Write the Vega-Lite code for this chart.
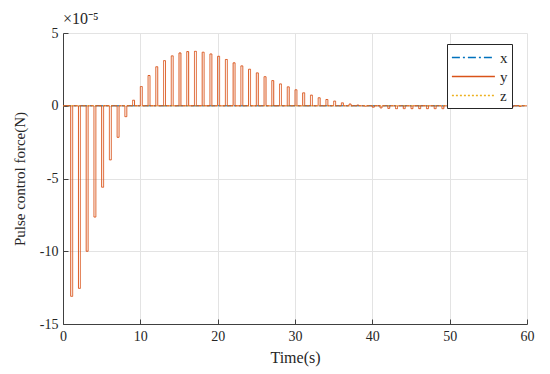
{
  "$schema": "https://vega.github.io/schema/vega-lite/v6.json",
  "width": 464,
  "height": 291,
  "autosize": "none",
  "padding": {"left": 63, "top": 33, "right": 23, "bottom": 50},
  "background": "white",
  "config": {
    "font": "Liberation Serif",
    "view": {"stroke": null},
    "axis": {
      "gridColor": "#e3e3e3",
      "gridWidth": 1,
      "domainColor": "#404040",
      "tickColor": "#404040",
      "tickSize": -5,
      "labelColor": "#262626",
      "titleColor": "#262626",
      "labelFontSize": 14,
      "titleFontSize": 15,
      "titleFontWeight": "normal",
      "labelFont": "Liberation Serif",
      "titleFont": "Liberation Serif",
      "labelExpr": "'' + datum.value"
    }
  },
  "title": {
    "text": "×10⁻⁵",
    "anchor": "start",
    "frame": "group",
    "fontSize": 16,
    "fontWeight": "normal",
    "font": "Liberation Serif",
    "color": "#262626",
    "offset": -1
  },
  "data": {
    "values": [
      {"s": "x", "t": 0, "v": 0},
      {"s": "x", "t": 60, "v": 0},
      {"s": "z", "t": 0, "v": 0},
      {"s": "z", "t": 60, "v": 0},
      {"s": "y", "t": 0, "v": 0},
      {"s": "y", "t": 1, "v": -13.1}, {"s": "y", "t": 1.25, "v": 0},
      {"s": "y", "t": 2, "v": -12.55}, {"s": "y", "t": 2.25, "v": 0},
      {"s": "y", "t": 3, "v": -10.0}, {"s": "y", "t": 3.25, "v": 0},
      {"s": "y", "t": 4, "v": -7.65}, {"s": "y", "t": 4.25, "v": 0},
      {"s": "y", "t": 5, "v": -5.6}, {"s": "y", "t": 5.25, "v": 0},
      {"s": "y", "t": 6, "v": -3.72}, {"s": "y", "t": 6.25, "v": 0},
      {"s": "y", "t": 7, "v": -2.17}, {"s": "y", "t": 7.25, "v": 0},
      {"s": "y", "t": 8, "v": -0.75}, {"s": "y", "t": 8.25, "v": 0},
      {"s": "y", "t": 9, "v": 0.38}, {"s": "y", "t": 9.25, "v": 0},
      {"s": "y", "t": 10, "v": 1.32}, {"s": "y", "t": 10.25, "v": 0},
      {"s": "y", "t": 11, "v": 2.08}, {"s": "y", "t": 11.25, "v": 0},
      {"s": "y", "t": 12, "v": 2.68}, {"s": "y", "t": 12.25, "v": 0},
      {"s": "y", "t": 13, "v": 3.1}, {"s": "y", "t": 13.25, "v": 0},
      {"s": "y", "t": 14, "v": 3.43}, {"s": "y", "t": 14.25, "v": 0},
      {"s": "y", "t": 15, "v": 3.63}, {"s": "y", "t": 15.25, "v": 0},
      {"s": "y", "t": 16, "v": 3.72}, {"s": "y", "t": 16.25, "v": 0},
      {"s": "y", "t": 17, "v": 3.74}, {"s": "y", "t": 17.25, "v": 0},
      {"s": "y", "t": 18, "v": 3.68}, {"s": "y", "t": 18.25, "v": 0},
      {"s": "y", "t": 19, "v": 3.56}, {"s": "y", "t": 19.25, "v": 0},
      {"s": "y", "t": 20, "v": 3.4}, {"s": "y", "t": 20.25, "v": 0},
      {"s": "y", "t": 21, "v": 3.18}, {"s": "y", "t": 21.25, "v": 0},
      {"s": "y", "t": 22, "v": 2.95}, {"s": "y", "t": 22.25, "v": 0},
      {"s": "y", "t": 23, "v": 2.74}, {"s": "y", "t": 23.25, "v": 0},
      {"s": "y", "t": 24, "v": 2.51}, {"s": "y", "t": 24.25, "v": 0},
      {"s": "y", "t": 25, "v": 2.26}, {"s": "y", "t": 25.25, "v": 0},
      {"s": "y", "t": 26, "v": 2.0}, {"s": "y", "t": 26.25, "v": 0},
      {"s": "y", "t": 27, "v": 1.73}, {"s": "y", "t": 27.25, "v": 0},
      {"s": "y", "t": 28, "v": 1.5}, {"s": "y", "t": 28.25, "v": 0},
      {"s": "y", "t": 29, "v": 1.3}, {"s": "y", "t": 29.25, "v": 0},
      {"s": "y", "t": 30, "v": 1.1}, {"s": "y", "t": 30.25, "v": 0},
      {"s": "y", "t": 31, "v": 0.89}, {"s": "y", "t": 31.25, "v": 0},
      {"s": "y", "t": 32, "v": 0.73}, {"s": "y", "t": 32.25, "v": 0},
      {"s": "y", "t": 33, "v": 0.55}, {"s": "y", "t": 33.25, "v": 0},
      {"s": "y", "t": 34, "v": 0.43}, {"s": "y", "t": 34.25, "v": 0},
      {"s": "y", "t": 35, "v": 0.32}, {"s": "y", "t": 35.25, "v": 0},
      {"s": "y", "t": 36, "v": 0.2}, {"s": "y", "t": 36.25, "v": 0},
      {"s": "y", "t": 37, "v": 0.12}, {"s": "y", "t": 37.25, "v": 0},
      {"s": "y", "t": 38, "v": 0.05}, {"s": "y", "t": 38.25, "v": 0},
      {"s": "y", "t": 39, "v": -0.03}, {"s": "y", "t": 39.25, "v": 0},
      {"s": "y", "t": 40, "v": -0.1}, {"s": "y", "t": 40.25, "v": 0},
      {"s": "y", "t": 41, "v": -0.15}, {"s": "y", "t": 41.25, "v": 0},
      {"s": "y", "t": 42, "v": -0.18}, {"s": "y", "t": 42.25, "v": 0},
      {"s": "y", "t": 43, "v": -0.2}, {"s": "y", "t": 43.25, "v": 0},
      {"s": "y", "t": 44, "v": -0.2}, {"s": "y", "t": 44.25, "v": 0},
      {"s": "y", "t": 45, "v": -0.2}, {"s": "y", "t": 45.25, "v": 0},
      {"s": "y", "t": 46, "v": -0.2}, {"s": "y", "t": 46.25, "v": 0},
      {"s": "y", "t": 47, "v": -0.2}, {"s": "y", "t": 47.25, "v": 0},
      {"s": "y", "t": 48, "v": -0.2}, {"s": "y", "t": 48.25, "v": 0},
      {"s": "y", "t": 49, "v": -0.2}, {"s": "y", "t": 49.25, "v": 0},
      {"s": "y", "t": 50, "v": -0.19}, {"s": "y", "t": 50.25, "v": 0},
      {"s": "y", "t": 51, "v": -0.19}, {"s": "y", "t": 51.25, "v": 0},
      {"s": "y", "t": 52, "v": -0.18}, {"s": "y", "t": 52.25, "v": 0},
      {"s": "y", "t": 53, "v": -0.17}, {"s": "y", "t": 53.25, "v": 0},
      {"s": "y", "t": 54, "v": -0.16}, {"s": "y", "t": 54.25, "v": 0},
      {"s": "y", "t": 55, "v": -0.15}, {"s": "y", "t": 55.25, "v": 0},
      {"s": "y", "t": 56, "v": -0.13}, {"s": "y", "t": 56.25, "v": 0},
      {"s": "y", "t": 57, "v": -0.11}, {"s": "y", "t": 57.25, "v": 0},
      {"s": "y", "t": 58, "v": -0.08}, {"s": "y", "t": 58.25, "v": 0},
      {"s": "y", "t": 59, "v": -0.05}, {"s": "y", "t": 59.25, "v": 0},
      {"s": "y", "t": 60, "v": 0}
    ]
  },
  "mark": {"type": "line", "interpolate": "step-after", "strokeWidth": 1, "clip": true},
  "encoding": {
    "x": {
      "field": "t",
      "type": "quantitative",
      "scale": {"domain": [0, 60], "nice": false, "zero": false},
      "axis": {"values": [0, 10, 20, 30, 40, 50, 60], "title": "Time(s)", "titleFontSize": 16, "labelPadding": 10, "titlePadding": 6, "labelFlush": false}
    },
    "y": {
      "field": "v",
      "type": "quantitative",
      "scale": {"domain": [-15, 5], "nice": false, "zero": false},
      "axis": {"values": [-15, -10, -5, 0, 5], "title": "Pulse control force(N)", "labelPadding": 10, "titlePadding": 12}
    },
    "color": {
      "field": "s",
      "type": "nominal",
      "scale": {"domain": ["x", "y", "z"], "range": ["#0072BD", "#D95319", "#EDB120"]},
      "legend": {
        "title": null,
        "orient": "none",
        "legendX": 384,
        "legendY": 11,
        "symbolType": "M-1,0H4",
        "symbolSize": 296,
        "symbolStrokeWidth": 1.5,
        "labelFontSize": 15,
        "labelFont": "Liberation Serif",
        "labelColor": "#262626",
        "labelOffset": 30,
        "rowPadding": 1,
        "padding": 4,
        "strokeColor": "#262626",
        "fillColor": "white",
        "cornerRadius": 0
      }
    },
    "strokeDash": {
      "field": "s",
      "type": "nominal",
      "scale": {"domain": ["x", "y", "z"], "range": [[8, 3, 2, 3], [1, 0], [2, 2]]},
      "legend": null
    }
  }
}
